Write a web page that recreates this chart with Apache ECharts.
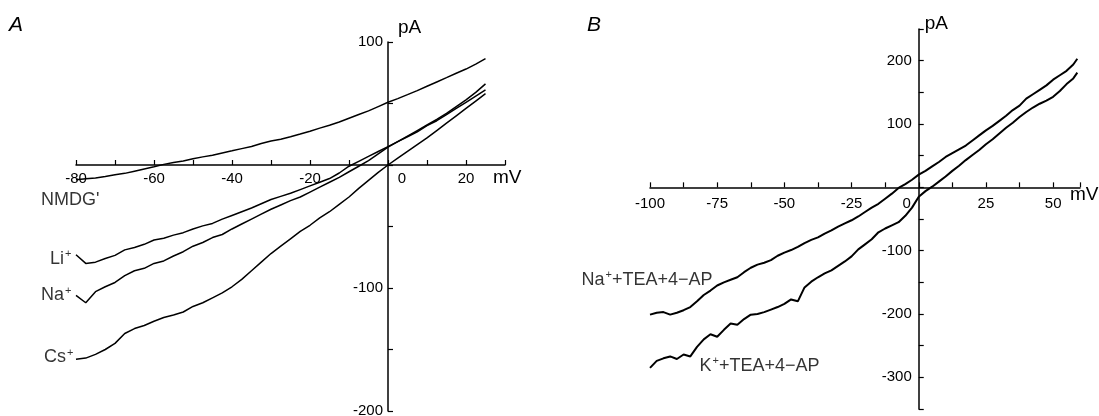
<!DOCTYPE html>
<html><head><meta charset="utf-8">
<script src="https://cdn.jsdelivr.net/npm/echarts@6/dist/echarts.min.js"></script>
<style>html,body{margin:0;padding:0;background:#fff}#c{width:1099px;height:416px}</style>
</head><body><div id="c"></div>
<script>
// ---------- Panel A : membrane potential (mV) ----------
const voltageA = [-80,-77.5,-75,-72.5,-70,-67.5,-65,-62.5,-60,-57.5,-55,-52.5,-50,-47.5,-45,-42.5,-40,-37.5,-35,-32.5,-30,-27.5,-25,-22.5,-20,-17.5,-15,-12.5,-10,-7.5,-5,-2.5,0,2.5,5,7.5,10,12.5,15,17.5,20,22.5,25];
const nmdgA = [-12,-11.2,-10.5,-9.3,-8,-6.8,-5,-3.2,-1.5,0.5,2,3.2,5,6.6,8,9.8,11.5,13.3,15,17.5,19.5,21,23,25.2,27.5,30,32.3,35,38,41,44,47.5,51,54,57.2,60.5,64,67.5,71,74.6,78,82,86.5];
const liA = [-73,-80,-79,-76,-73.5,-69,-67,-64.5,-61,-59.5,-57,-55,-52,-49.5,-47.5,-44,-41,-38,-35,-31.5,-28,-25.5,-23,-20,-17,-14,-11,-6.5,-1,3,7,11,15,19,23,27,32,36,41,46,51,56,61];
const naA = [-106,-112,-103,-99,-95.5,-90,-86,-84,-80,-78,-74,-70.5,-66,-63,-59,-56.5,-52,-48,-44,-40,-36,-32.5,-29,-26,-22,-18,-14,-10,-5.5,-1,3.5,9,14.5,19,23.5,28,32.5,37,42,47.5,53,59,66];
const csA = [-158,-157,-154,-150,-145,-137,-133,-130.5,-127,-124,-122,-119.5,-115,-112,-108,-104,-99,-93,-86,-79,-72,-66,-60,-54,-49,-43,-38,-32,-26,-19,-12.5,-6,0,5.5,11,16.5,22,28,34,40,46,52,58];
// ---------- Panel B ----------
const voltageB = [-100,-97.5,-95,-92.5,-90,-87.5,-85,-82.5,-80,-77.5,-75,-72.5,-70,-67.5,-65,-62.5,-60,-57.5,-55,-52.5,-50,-47.5,-45,-42.5,-40,-37.5,-35,-32.5,-30,-27.5,-25,-22.5,-20,-17.5,-15,-12.5,-10,-7.5,-5,-2.5,0,2.5,5,7.5,10,12.5,15,17.5,20,22.5,25,27.5,30,32.5,35,37.5,40,42.5,45,47.5,50,52.5,55,57.5,59];
const naTeaB = [-201,-198,-197,-201,-198,-194,-189,-180,-170,-163,-155,-150,-146,-142,-134,-127,-122,-119,-115,-108,-103,-99,-94,-88,-83,-79,-73,-68,-62,-57,-52,-46,-39,-32,-26,-18,-10,-1,5,12,20,26,33,40,48,54,60,66,74,82,90,97,105,113,122,129,140,147,154,161,170,177,184,194,203];
const kTeaB = [-285,-274,-270,-267,-271,-264,-267,-252,-240,-232,-236,-225,-215,-217,-208,-201,-200,-197,-193,-189,-184,-177,-180,-158,-149,-142,-136,-131,-124,-117,-109,-98,-90,-82,-71,-65,-60,-55,-45,-32,-15,-6,1,9,17,26,34,43,51,59,68,76,85,94,102,111,119,126,132,137,143,152,163,172,181];
// ---------- axis ranges and texts ----------
const rangeA = {xMin: -80, xMax: 30, xStep: 10, yMin: -200, yMax: 100, yStep: 50};
const rangeB = {xMin: -100, xMax: 60, xStep: 12.5, yMin: -350, yMax: 250, yStep: 50};
const panelLabels = ['A', 'B'];
const curveLabelsA = ["{m|NMDG'}", '{m|Li}{s|+}', '{m|Na}{s|+}', '{m|Cs}{s|+}'];
const curveLabelsB = ['{m|Na}{s|+}{m|+TEA+4\u2212AP}', '{m|K}{s|+}{m|+TEA+4\u2212AP}'];

const SANS = "'Liberation Sans',Arial,sans-serif";
const INK = '#000';
const pair = (xs, ys) => xs.map((x, i) => [x, ys[i]]);

const gridA = {left: 76, top: 42, width: 429, height: 369, outerBoundsMode: 'none', containLabel: false};
const gridB = {left: 650, top: 29, width: 430, height: 380, outerBoundsMode: 'none', containLabel: false};

const rich = {
  m: {fontSize: 18, fontFamily: SANS, color: INK, lineHeight: 20},
  s: {fontSize: 11, fontFamily: SANS, color: INK, lineHeight: 11, verticalAlign: 'top', padding: [0, 0, 0, 1]}
};
const tickLbl = {fontSize: 15, fontFamily: SANS, color: INK};
const line = {show: true, onZero: false, lineStyle: {color: INK, width: 1.5}};
const tick = {inside: true, length: 5, lineStyle: {color: INK, width: 1.2}};

// axes cross at zero: offset each axis from its grid edge to the zero position of the other scale
function xOffset(g, r) { return -g.height * (0 - r.yMin) / (r.yMax - r.yMin); }
function yOffset(g, r) { return -g.width * (0 - r.xMin) / (r.xMax - r.xMin); }

function traceSeries(xi, xs, ys, w) {
  return {type: 'line', xAxisIndex: xi, yAxisIndex: xi, data: pair(xs, ys), showSymbol: false, symbol: 'none',
    silent: true, lineStyle: {color: INK, width: w}, z: 3};
}
function labelSeries(xi, xs, ys, text, pos, offset) {
  return {type: 'scatter', xAxisIndex: xi, yAxisIndex: xi, data: [[xs[0], ys[0]]], symbolSize: 1, silent: true,
    itemStyle: {color: 'rgba(0,0,0,0)'},
    label: {show: true, position: pos, distance: 0, offset: offset, formatter: text, rich: rich}};
}

const option = {
  animation: false,
  backgroundColor: '#fff',
  title: [
    {text: panelLabels[0], left: 9, top: 15, padding: 0, textStyle: {fontStyle: 'italic', fontWeight: 'normal', fontSize: 21, fontFamily: SANS, color: INK}},
    {text: panelLabels[1], left: 587, top: 15, padding: 0, textStyle: {fontStyle: 'italic', fontWeight: 'normal', fontSize: 21, fontFamily: SANS, color: INK}}
  ],
  grid: [gridA, gridB],
  xAxis: [
    {gridIndex: 0, type: 'value', position: 'bottom', offset: xOffset(gridA, rangeA),
      min: rangeA.xMin, max: rangeA.xMax, interval: rangeA.xStep,
      axisLine: line, axisTick: tick, splitLine: {show: false},
      axisLabel: Object.assign({margin: 6, formatter: v => v === 0 ? '{z|0}' : (v % 20 === 0 ? String(v) : ''),
        rich: {z: Object.assign({padding: [0, 0, 0, 28]}, tickLbl)}}, tickLbl),
      name: 'mV', nameLocation: 'end', nameGap: -12, nameMoveOverlap: false,
      nameTextStyle: {fontSize: 19, fontFamily: SANS, color: INK, align: 'left', verticalAlign: 'top', lineHeight: 26}},
    {gridIndex: 1, type: 'value', position: 'bottom', offset: xOffset(gridB, rangeB),
      min: rangeB.xMin, max: rangeB.xMax, interval: rangeB.xStep,
      axisLine: line, axisTick: tick, splitLine: {show: false},
      axisLabel: Object.assign({margin: 9, formatter: v => v === 0 ? '{z|0}' : (v % 25 === 0 ? String(v) : ''),
        rich: {z: Object.assign({padding: [0, 24, 0, 0]}, tickLbl)}}, tickLbl),
      name: 'mV', nameLocation: 'end', nameGap: -10, nameMoveOverlap: false,
      nameTextStyle: {fontSize: 19, fontFamily: SANS, color: INK, align: 'left', verticalAlign: 'top', lineHeight: 14}}
  ],
  yAxis: [
    {gridIndex: 0, type: 'value', position: 'left', offset: yOffset(gridA, rangeA),
      min: rangeA.yMin, max: rangeA.yMax, interval: rangeA.yStep,
      axisLine: line, axisTick: tick, splitLine: {show: false},
      axisLabel: Object.assign({margin: 5, formatter: v => (v !== 0 && v % 100 === 0) ? String(v) : ''}, tickLbl),
      name: 'pA', nameLocation: 'end', nameGap: 5, nameMoveOverlap: false,
      nameTextStyle: {fontSize: 19, fontFamily: SANS, color: INK, align: 'left', verticalAlign: 'bottom', padding: [0, 0, 0, 10]}},
    {gridIndex: 1, type: 'value', position: 'left', offset: yOffset(gridB, rangeB),
      min: rangeB.yMin, max: rangeB.yMax, interval: rangeB.yStep,
      axisLine: line, axisTick: tick, splitLine: {show: false},
      axisLabel: Object.assign({margin: 7, formatter: v => (v !== 0 && v % 100 === 0) ? String(v) : ''}, tickLbl),
      name: 'pA', nameLocation: 'end', nameGap: -4, nameMoveOverlap: false,
      nameTextStyle: {fontSize: 19, fontFamily: SANS, color: INK, align: 'left', verticalAlign: 'bottom', padding: [0, 0, 0, 6]}}
  ],
  series: [
    traceSeries(0, voltageA, nmdgA, 1.5),
    traceSeries(0, voltageA, liA, 1.5),
    traceSeries(0, voltageA, naA, 1.5),
    traceSeries(0, voltageA, csA, 1.5),
    traceSeries(1, voltageB, naTeaB, 2),
    traceSeries(1, voltageB, kTeaB, 2),
    labelSeries(0, voltageA, nmdgA, curveLabelsA[0], 'left', [24, 20]),
    labelSeries(0, voltageA, liA, curveLabelsA[1], 'left', [-4, 4]),
    labelSeries(0, voltageA, naA, curveLabelsA[2], 'left', [-4, 0]),
    labelSeries(0, voltageA, csA, curveLabelsA[3], 'left', [-2, -2]),
    labelSeries(1, voltageB, naTeaB, curveLabelsB[0], 'left', [63, -35]),
    labelSeries(1, voltageB, kTeaB, curveLabelsB[1], 'right', [49, -2])
  ]
};
const chart = echarts.init(document.getElementById('c'), null, {renderer: 'canvas'});
chart.setOption(option);
</script></body></html>
